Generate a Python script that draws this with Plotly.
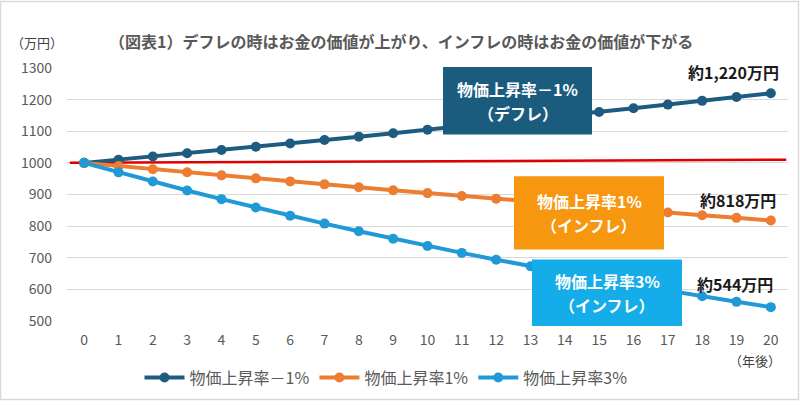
import plotly.graph_objects as go

years = list(range(0, 21))
deflation_1 = [1000, 1010, 1020.1, 1030.3, 1040.6, 1051.0, 1061.5, 1072.1, 1082.9, 1093.7, 1104.6,
               1115.7, 1126.8, 1138.1, 1149.5, 1161.0, 1172.6, 1184.3, 1196.1, 1208.1, 1220.2]
inflation_1 = [1000, 990, 980.1, 970.3, 960.6, 951.0, 941.5, 932.1, 922.7, 913.5, 904.4,
               895.4, 886.4, 877.5, 868.7, 860.1, 851.5, 842.9, 834.5, 826.2, 817.9]
inflation_3 = [1000, 970, 940.9, 912.7, 885.3, 858.7, 833.0, 808.0, 783.7, 760.2, 737.4,
               715.3, 693.8, 673.0, 652.8, 633.3, 614.3, 595.8, 578.0, 560.6, 543.8]
series_names = ["物価上昇率－1%", "物価上昇率1%", "物価上昇率3%"]
ref_x = [-0.42, 20.45]
ref_y = [1000, 1010]
y_ticks = [500, 600, 700, 800, 900, 1000, 1100, 1200, 1300]

W, H = 800, 407
L, R, T, B = 67, 788, 68, 323
PW, PH = R - L, B - T

def px(x):
    return (x - L) / PW

def py(y):
    return (B - y) / PH

C_DARK = "#1d5c80"
C_ORANGE = "#ed7d31"
C_LIGHT = "#1f9ad6"
FONT = "Noto Sans CJK JP"

fig = go.Figure()
fig.add_trace(go.Scatter(x=ref_x, y=ref_y, mode="lines", line=dict(color="#e00000", width=2.5),
                         showlegend=False, hoverinfo="skip"))
for name, ys, col in zip(series_names, [deflation_1, inflation_1, inflation_3], [C_DARK, C_ORANGE, C_LIGHT]):
    fig.add_trace(go.Scatter(x=years, y=ys, name=name, mode="lines+markers",
                             line=dict(color=col, width=4), marker=dict(color=col, size=10)))

shapes = []
annotations = []

def box(x0, y0, x1, y1, color, line1, line2):
    shapes.append(dict(type="rect", xref="paper", yref="paper", x0=px(x0), x1=px(x1), y0=py(y1), y1=py(y0),
                       fillcolor=color, line=dict(width=0), layer="above"))
    cx = (x0 + x1) / 2
    cy = (y0 + y1) / 2
    annotations.append(dict(xref="paper", yref="paper", x=px(cx), y=py(cy - 12), text=line1, showarrow=False,
                            font=dict(family=FONT, size=16, color="white", weight="bold"), xanchor="center", yanchor="middle"))
    annotations.append(dict(xref="paper", yref="paper", x=px(cx), y=py(cy + 12), text=line2, showarrow=False,
                            font=dict(family=FONT, size=16, color="white", weight="bold"), xanchor="center", yanchor="middle"))

box(443, 67, 592, 135, "#1b5c7e", "物価上昇率－1%", "（デフレ）")
box(514, 177, 664, 251, "#f7960f", "物価上昇率1%", "（インフレ）")
box(532, 261, 682, 328, "#14ade9", "物価上昇率3%", "（インフレ）")

# outer frame
shapes.append(dict(type="rect", xref="paper", yref="paper", x0=px(0.5), x1=px(798.5), y0=py(402), y1=py(1),
                   line=dict(color="#d9d9d9", width=1.5), fillcolor="rgba(0,0,0,0)", layer="below"))

def label(x, y, text, size=14, color="#1a1a1a", bold=True, anchor="center"):
    annotations.append(dict(xref="paper", yref="paper", x=px(x), y=py(y), text=text, showarrow=False,
                            font=dict(family=FONT, size=size, color=color, weight="bold" if bold else "normal"),
                            xanchor=anchor, yanchor="middle"))

label(733, 72, "約1,220万円", size=16)
label(738, 201, "約818万円", size=16)
label(735, 286, "約544万円", size=16)
label(401, 41, "（図表1）デフレの時はお金の価値が上がり、インフレの時はお金の価値が下がる", size=16, color="#595959")
label(37, 42, "（万円）", size=13, color="#404040", bold=False)
label(755, 363, "（年後）", size=13, color="#404040", bold=False)

fig.update_layout(
    width=W, height=H,
    margin=dict(l=L, r=W - R, t=T, b=H - B),
    paper_bgcolor="white", plot_bgcolor="white",
    font=dict(family=FONT, color="#595959"),
    shapes=shapes, annotations=annotations,
    legend=dict(orientation="h", x=px(386), xanchor="center", y=py(380), yanchor="middle",
                font=dict(family=FONT, size=16, color="#595959"), itemwidth=40),
    xaxis=dict(range=[-0.5, 20.5], tickmode="array", tickvals=years, ticktext=[str(v) for v in years],
               showgrid=False, zeroline=False, showline=False, ticks="", ticklabelstandoff=9,
               tickfont=dict(family=FONT, size=14, color="#595959"), fixedrange=True),
    yaxis=dict(range=[500, 1300], tickmode="array", tickvals=y_ticks, ticktext=[str(v) for v in y_ticks],
               showgrid=True, gridcolor="#d9d9d9", gridwidth=1, zeroline=False, showline=False, ticks="",
               ticklabelstandoff=14, tickfont=dict(family=FONT, size=14, color="#595959"), fixedrange=True),
    hovermode=False,
)

fig.write_html("out.html")
